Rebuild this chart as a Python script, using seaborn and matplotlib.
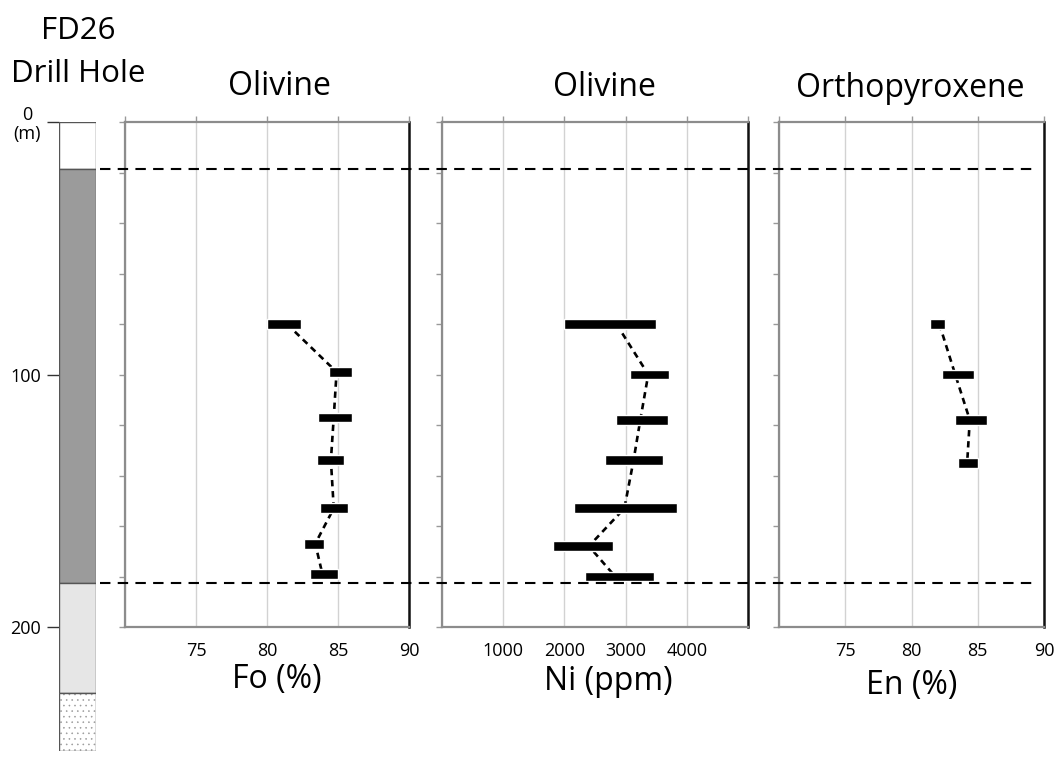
import matplotlib
matplotlib.use("Agg")
import matplotlib.pyplot as plt
import seaborn as sns
import pandas as pd
import numpy as np

sns.set_theme(style="white")
plt.rcParams['font.family'] = ['Open Sans', 'DejaVu Sans']
plt.rcParams['hatch.linewidth'] = 0.4

W, H = 1057, 780

# ---------------- data ----------------
fo_depth = [80, 99, 117, 134, 153, 167, 179]
fo_min = [80.0, 84.4, 83.6, 83.5, 83.7, 82.6, 83.0]
fo_max = [82.4, 86.0, 86.0, 85.4, 85.7, 84.0, 85.0]
fo_mean = [81.4, 84.9, 84.7, 84.5, 84.7, 83.4, 83.9]

ni_depth = [80, 100, 118, 134, 153, 168, 180]
ni_min = [2000, 3080, 2840, 2670, 2150, 1820, 2330]
ni_max = [3490, 3710, 3690, 3610, 3840, 2790, 3470]
ni_mean = [2850, 3370, 3240, 3130, 2980, 2400, 2830]

en_depth = [80, 100, 118, 135]
en_min = [81.4, 82.3, 83.3, 83.5]
en_max = [82.5, 84.7, 85.7, 85.0]
en_mean = [82.1, 83.3, 84.4, 84.2]

unit_top = [0, 18.6, 182.4, 226]
unit_bottom = [18.6, 182.4, 226, 249]
unit_color = ['white', '#9b9b9b', '#e6e6e6', 'white']
unit_hatch = ['', '', '', '...']

boundary_depth = [18.6, 182.6]

depth_ticks = [0, 100, 200]
depth_ticklabels = ['0\n(m)', '100', '200']
panel_yticks = list(range(0, 201, 20))

pct_ticks = [70, 75, 80, 85, 90]
pct_ticklabels = ['', '75', '80', '85', '90']
ni_ticks = [0, 1000, 2000, 3000, 4000, 5000]
ni_ticklabels = ['', '1000', '2000', '3000', '4000', '']

titles = ['Olivine', 'Olivine', 'Orthopyroxene']
xlabels = ['Fo (%)', 'Ni (ppm)', 'En (%)']

# ---------------- layout helpers ----------------
def rect(x0, x1, y0, y1):
    return [x0 / W, 1 - y1 / H, (x1 - x0) / W, (y1 - y0) / H]

fig = plt.figure(figsize=(W / 100, H / 100), dpi=100)
fig.patch.set_facecolor('white')

PX_PER_M = 505 / 200.0
PANEL_TOP, PANEL_BOT = 122, 627

# ---------------- drill hole column ----------------
axd = fig.add_axes(rect(59, 96, PANEL_TOP, PANEL_TOP + 249 * PX_PER_M))
units = pd.DataFrame({'top': unit_top, 'bottom': unit_bottom,
                      'color': unit_color, 'hatch': unit_hatch})
for _, u in units.iterrows():
    h = u['bottom'] - u['top']
    if u['hatch']:
        axd.bar(0, h, bottom=u['top'], width=1.0, color=u['color'],
                edgecolor='#9a9a9a', linewidth=0, hatch=u['hatch'])
        axd.bar(0, h, bottom=u['top'], width=1.0, fill=False,
                edgecolor='#555555', linewidth=1.0)
    else:
        axd.bar(0, h, bottom=u['top'], width=1.0, color=u['color'],
                edgecolor='#555555', linewidth=1.0)
axd.set_xlim(-0.5, 0.5)
axd.set_ylim(249, 0)
for s in axd.spines.values():
    s.set_visible(False)
axd.set_xticks([])
axd.set_yticks(depth_ticks)
axd.set_yticklabels(depth_ticklabels)
axd.tick_params(axis='y', left=True, length=9, width=1.0, color='#333333',
                direction='out', pad=4, labelsize=13, labelcolor='black')
for lab in axd.get_yticklabels():
    lab.set_multialignment('center')
    lab.set_linespacing(1.1)

# ---------------- panels ----------------
panels = [
    dict(x0=125, x1=409, depth=fo_depth, lo=fo_min, hi=fo_max, mean=fo_mean,
         xlim=(70, 90), ticks=pct_ticks, labels=pct_ticklabels),
    dict(x0=442, x1=748, depth=ni_depth, lo=ni_min, hi=ni_max, mean=ni_mean,
         xlim=(0, 5000), ticks=ni_ticks, labels=ni_ticklabels),
    dict(x0=779, x1=1044, depth=en_depth, lo=en_min, hi=en_max, mean=en_mean,
         xlim=(70, 90), ticks=pct_ticks, labels=pct_ticklabels),
]

for p in panels:
    ax = fig.add_axes(rect(p['x0'], p['x1'], PANEL_TOP, PANEL_BOT))
    df = pd.DataFrame({'depth': p['depth'], 'lo': p['lo'], 'hi': p['hi'],
                       'mean': p['mean']})
    sns.lineplot(data=df, x='mean', y='depth', sort=False, estimator=None,
                 color='black', linewidth=1.9, linestyle=(0, (2.4, 1.8)),
                 ax=ax, zorder=2)
    ax.barh(df['depth'], df['hi'] - df['lo'], left=df['lo'], height=3.9,
            color='black', zorder=3)
    ax.set_xlim(*p['xlim'])
    ax.set_ylim(200, 0)
    ax.set_xticks(p['ticks'])
    ax.set_xticklabels(p['labels'])
    ax.set_yticks(panel_yticks)
    ax.set_yticklabels([])
    ax.set_xlabel('')
    ax.set_ylabel('')
    ax.xaxis.grid(True, color='#d2d2d2', linewidth=1.0)
    ax.yaxis.grid(False)
    ax.set_axisbelow(True)
    ax.tick_params(axis='x', bottom=False, top=True, labelbottom=True,
                   labeltop=False, length=4, width=1.0, color='#999999',
                   direction='out', pad=7, labelsize=13, labelcolor='black')
    ax.tick_params(axis='y', left=True, right=False, length=4, width=1.0,
                   color='#999999', direction='out')
    for side in ['left', 'bottom', 'top']:
        ax.spines[side].set_color('#8c8c8c')
        ax.spines[side].set_linewidth(1.6)
    ax.spines['right'].set_color('#111111')
    ax.spines['right'].set_linewidth(1.8)

# ---------------- overlay for horizon lines ----------------
axo = fig.add_axes(rect(100, 1037, PANEL_TOP, PANEL_BOT))
axo.set_xlim(0, 1)
axo.set_ylim(200, 0)
axo.patch.set_alpha(0)
axo.axis('off')
for d in boundary_depth:
    axo.axhline(d, color='black', linewidth=1.5, linestyle=(0, (5, 3.5)))

# ---------------- texts ----------------
def ftext(x, y, s, size, **kw):
    fig.text(x / W, 1 - y / H, s, fontsize=size, ha='center', va='baseline',
             color='black', **kw)

ftext(78, 39, 'FD26', 22.5)
ftext(78, 82, 'Drill Hole', 22.5)
ftext(279, 95, titles[0], 23)
ftext(604, 96, titles[1], 23)
ftext(910, 97, titles[2], 23)
ftext(277, 688, xlabels[0], 23)
ftext(608, 690, xlabels[1], 23)
ftext(912, 694, xlabels[2], 23)

fig.savefig('out.png', dpi=100, facecolor='white')
